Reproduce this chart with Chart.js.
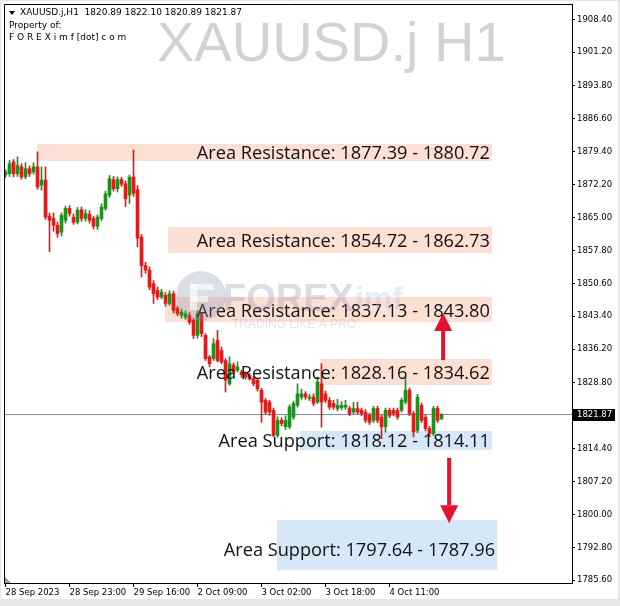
<!DOCTYPE html>
<html>
<head>
<meta charset="utf-8">
<script src="https://cdn.jsdelivr.net/npm/chart.js@4.4.0/dist/chart.umd.min.js"></script>
<style>
html, body { margin: 0; padding: 0; background: #fff; }
canvas { display: block; }
</style>
</head>
<body>
<canvas id="chart" width="620" height="606"></canvas>
<script>
// XAUUSD.j H1 candles (bar 0 = 28 Sep 2023 07:00)
var opens = [1874.3,1874.6,1877.2,1874.6,1876.1,1873.9,1875.7,1875.0,1876.1,1872.1,
  1873.2,1865.3,1864.8,1863.3,1861.8,1864.4,1867.0,1865.1,1864.0,1866.7,
  1864.8,1865.7,1864.8,1863.1,1864.8,1867.0,1869.9,1873.3,1871.3,1873.3,
  1872.4,1869.9,1873.9,1871.1,1860.7,1854.5,1853.5,1850.5,1849.1,1847.6,
  1848.0,1846.2,1848.3,1845.1,1843.6,1843.2,1843.6,1842.5,1839.2,1844.0,
  1839.2,1834.5,1834.1,1838.1,1835.9,1833.7,1828.6,1832.7,1831.6,1831.2,
  1830.8,1830.4,1829.7,1829.4,1827.2,1825.0,1824.6,1822.8,1817.3,1820.6,
  1819.2,1819.2,1821.3,1823.9,1825.7,1826.4,1825.4,1825.7,1824.6,1828.6,
  1826.4,1825.0,1824.3,1823.2,1823.4,1823.5,1823.2,1822.4,1823.2,1822.8,
  1822.4,1821.7,1820.6,1823.2,1821.3,1819.2,1822.8,1822.8,1822.8,1822.8,
  1824.6,1827.2,1822.1,1818.4,1823.9,1821.3,1818.8,1817.7,1823.2,1820.89];
var highs = [1875.5,1877.5,1877.7,1878.3,1876.8,1877.0,1876.3,1877.0,1879.4,1876.1,
  1876.1,1866.0,1866.0,1864.0,1866.0,1867.5,1867.6,1865.8,1867.2,1867.3,
  1866.7,1866.5,1865.3,1865.6,1868.0,1870.8,1874.2,1874.0,1873.9,1873.8,
  1873.0,1874.3,1879.8,1872.0,1861.3,1855.2,1854.2,1851.2,1849.8,1849.3,
  1848.6,1849.0,1848.9,1845.6,1845.0,1844.6,1844.2,1843.0,1844.6,1844.3,
  1839.6,1834.8,1838.5,1840.3,1836.7,1834.1,1834.5,1833.2,1833.4,1831.6,
  1831.2,1830.9,1830.2,1829.8,1827.6,1825.4,1825.0,1823.3,1821.4,1821.2,
  1821.6,1824.0,1824.8,1828.6,1827.4,1826.9,1826.3,1826.4,1830.1,1833.0,
  1827.0,1825.6,1825.0,1825.2,1824.7,1825.0,1823.7,1824.6,1824.6,1823.3,
  1823.0,1822.2,1823.7,1823.7,1821.8,1823.3,1823.3,1823.3,1823.3,1825.5,
  1830.1,1827.7,1822.6,1826.3,1824.4,1821.8,1819.3,1823.7,1823.7,1822.10];
var lows = [1873.8,1874.0,1873.9,1874.0,1873.4,1873.5,1874.0,1874.5,1871.2,1871.0,
  1864.6,1857.5,1862.0,1860.7,1861.0,1863.8,1865.3,1863.5,1863.6,1864.2,
  1864.2,1863.8,1862.5,1862.4,1864.3,1866.6,1869.4,1870.8,1870.6,1871.8,
  1867.4,1868.1,1869.6,1858.6,1852.0,1852.8,1849.2,1846.2,1847.0,1847.2,
  1845.6,1845.8,1844.1,1843.5,1843.0,1842.7,1841.6,1838.5,1838.6,1838.9,
  1833.7,1832.3,1833.7,1833.4,1833.0,1826.8,1828.3,1830.8,1831.2,1830.0,
  1829.6,1829.4,1828.2,1827.0,1820.2,1821.9,1821.7,1817.0,1816.9,1819.4,
  1818.6,1818.8,1820.8,1823.5,1825.2,1825.2,1824.9,1823.8,1824.3,1819.1,
  1824.5,1823.0,1823.0,1822.7,1822.9,1823.0,1821.6,1822.0,1822.0,1821.6,
  1820.1,1819.7,1820.1,1820.1,1816.6,1818.0,1821.2,1821.6,1820.8,1822.4,
  1824.2,1821.6,1817.0,1817.9,1820.1,1818.3,1817.0,1817.3,1820.1,1820.89];
var closes = [1875.0,1876.8,1874.6,1876.4,1873.9,1875.7,1874.6,1876.1,1871.7,1873.2,
  1865.1,1864.4,1863.3,1861.5,1865.5,1867.0,1865.9,1864.0,1866.6,1864.8,
  1865.9,1864.4,1863.1,1865.1,1867.3,1870.2,1873.5,1871.3,1873.3,1872.3,
  1869.1,1873.8,1870.3,1860.5,1854.5,1853.5,1849.8,1848.3,1847.6,1848.7,
  1846.2,1848.3,1844.7,1844.0,1844.3,1844.0,1842.1,1839.2,1844.0,1839.6,
  1834.1,1833.0,1837.4,1833.7,1833.4,1829.4,1833.0,1831.2,1832.3,1830.6,
  1830.1,1829.7,1828.6,1827.5,1824.6,1822.4,1822.4,1817.3,1820.6,1819.9,
  1820.6,1823.5,1824.3,1826.4,1826.4,1825.7,1825.7,1824.3,1829.0,1824.6,
  1825.0,1823.5,1823.5,1823.9,1823.9,1823.9,1822.1,1823.2,1822.4,1822.1,
  1820.6,1820.2,1823.2,1820.6,1819.2,1822.8,1821.7,1822.1,1821.3,1825.0,
  1827.2,1822.1,1818.1,1825.7,1820.6,1818.8,1817.7,1823.2,1820.6,1821.87];

// time axis
var xTickIdx = [0, 16, 32, 48, 64, 80, 96];
var xTickLabels = ['28 Sep 2023', '28 Sep 23:00', '29 Sep 16:00', '2 Oct 09:00', '3 Oct 02:00', '3 Oct 18:00', '4 Oct 11:00'];
// price axis
var yTicks = [1908.40, 1901.20, 1893.80, 1886.60, 1879.40, 1872.20, 1865.00, 1857.80, 1850.60,
  1843.40, 1836.20, 1828.80, 1814.40, 1807.20, 1800.00, 1792.80, 1785.60];

// drawn areas (bar index from/to, price high/low) and their labels
var zoneFrom = [7.9, 40.6, 39.9, 78.6, 73.6, 67.9];
var zoneTo = [121.6, 121.6, 121.6, 121.6, 121.6, 122.9];
var zoneHigh = [1881.0, 1862.93, 1847.61, 1834.04, 1818.28, 1798.79];
var zoneLow = [1877.39, 1857.24, 1842.14, 1828.34, 1814.11, 1787.85];
var zoneKind = ['res', 'res', 'res', 'res', 'sup', 'sup'];
var zoneText = ['Area Resistance: 1877.39 - 1880.72', 'Area Resistance: 1854.72 - 1862.73',
  'Area Resistance: 1837.13 - 1843.80', 'Area Resistance: 1828.16 - 1834.62',
  'Area Support: 1818.12 - 1814.11', 'Area Support: 1797.64 - 1787.96'];
var labelPrice = [1879.13, 1859.87, 1844.54, 1830.97, 1816.08, 1792.22];

// arrows (bar index, price from, price to)
var arrowIdx = [109.4, 110.9];
var arrowFrom = [1833.8, 1812.4];
var arrowTo = [1844.1, 1798.1];

var symbol = 'XAUUSD.j';
var last = opens.length - 1;
var lastPrice = closes[last];

var UP = '#1f8f1f', DOWN = '#e01b1b';
var candleColor = closes.map(function (c, i) { return c >= opens[i] ? UP : DOWN; });

var wicks = highs.map(function (h, i) { return { x: i, y: [lows[i], h] }; });
var bodies = opens.map(function (o, i) {
  return { x: i, y: [Math.min(o, closes[i]), Math.max(o, closes[i])] };
});

var mt4 = {
  id: 'mt4',
  beforeDraw: function (chart) {
    var ctx = chart.ctx;
    ctx.save();
    ctx.fillStyle = '#e6e6e6';
    ctx.fillRect(0, 0, chart.width, chart.height);
    ctx.fillStyle = '#ffffff';
    ctx.fillRect(1, 1, chart.width - 3, chart.height - 8);
    // big symbol watermark
    ctx.fillStyle = '#d2d2d2';
    ctx.font = '56px "Liberation Sans", Arial, sans-serif';
    ctx.textBaseline = 'alphabetic';
    ctx.textAlign = 'left';
    ctx.fillText(symbol + ' H1', 157, 61);
    ctx.restore();
  },
  beforeDatasetsDraw: function (chart) {
    var ctx = chart.ctx, x = chart.scales.x, y = chart.scales.y;
    ctx.save();
    for (var k = 0; k < zoneText.length; k++) {
      var x0 = Math.round(x.getPixelForValue(zoneFrom[k]));
      var x1 = Math.round(x.getPixelForValue(zoneTo[k]));
      var y0 = Math.round(y.getPixelForValue(zoneHigh[k]));
      var y1 = Math.round(y.getPixelForValue(zoneLow[k]));
      ctx.fillStyle = zoneKind[k] === 'res' ? '#fce0d3' : '#d6e7f8';
      ctx.fillRect(x0, y0, x1 - x0, y1 - y0);
    }
    ctx.restore();
  },
  afterDatasetsDraw: function (chart) {
    var ctx = chart.ctx, x = chart.scales.x, y = chart.scales.y;
    ctx.save();
    // zone labels
    ctx.fillStyle = '#111';
    ctx.font = '18.2px "Open Sans", "Liberation Sans", sans-serif';
    ctx.textAlign = 'right';
    ctx.textBaseline = 'middle';
    for (var k = 0; k < zoneText.length; k++) {
      ctx.fillText(zoneText[k], x.getPixelForValue(zoneTo[k]) - 2, y.getPixelForValue(labelPrice[k]) + 1);
    }
    // arrows
    ctx.fillStyle = '#e3132e';
    for (var j = 0; j < arrowIdx.length; j++) {
      var ax = x.getPixelForValue(arrowIdx[j]);
      var ya = y.getPixelForValue(arrowFrom[j]);
      var yb = y.getPixelForValue(arrowTo[j]);
      var dir = yb < ya ? -1 : 1;
      var head = 18;
      var neck = yb - dir * head;
      ctx.fillRect(ax - 2, Math.min(ya, neck), 4, Math.abs(neck - ya));
      ctx.beginPath();
      ctx.moveTo(ax - 9, neck);
      ctx.lineTo(ax + 9, neck);
      ctx.lineTo(ax, yb);
      ctx.closePath();
      ctx.fill();
    }
    // FOREXimf watermark
    ctx.globalAlpha = 0.3;
    ctx.fillStyle = '#8a93b0';
    ctx.beginPath();
    ctx.arc(201, 296, 25, 0, Math.PI * 2);
    ctx.fill();
    ctx.globalAlpha = 0.6;
    ctx.fillStyle = '#ffffff';
    ctx.fillRect(190, 284, 24, 6);
    ctx.fillRect(190, 296, 18, 6);
    ctx.fillRect(190, 284, 7, 26);
    ctx.globalAlpha = 0.3;
    ctx.fillStyle = '#8a93b0';
    ctx.font = 'bold 38px "Liberation Sans", Arial, sans-serif';
    ctx.textAlign = 'left';
    ctx.textBaseline = 'alphabetic';
    ctx.fillText('FOREX', 223, 311);
    var w = ctx.measureText('FOREX').width;
    ctx.fillStyle = '#9cc3ea';
    ctx.font = 'bold 32px "Liberation Sans", Arial, sans-serif';
    ctx.fillText('imf', 223 + w + 1, 309);
    ctx.globalAlpha = 0.28;
    ctx.fillStyle = '#9aa0b5';
    ctx.font = '12px "Liberation Sans", Arial, sans-serif';
    ctx.fillText('TRADING LIKE A PRO', 232, 328);
    ctx.restore();
  },
  afterDraw: function (chart) {
    var ctx = chart.ctx, y = chart.scales.y, a = chart.chartArea;
    ctx.save();
    // frame left / top
    ctx.strokeStyle = '#000';
    ctx.lineWidth = 1;
    ctx.beginPath();
    ctx.moveTo(a.left + 0.5, a.bottom);
    ctx.lineTo(a.left + 0.5, a.top + 0.5);
    ctx.lineTo(a.right, a.top + 0.5);
    ctx.stroke();
    // shift marker
    ctx.fillStyle = '#9a9a9a';
    ctx.beginPath();
    ctx.moveTo(a.left + 1, a.bottom - 6);
    ctx.lineTo(a.left + 1, a.bottom);
    ctx.lineTo(a.left + 7, a.bottom);
    ctx.closePath();
    ctx.fill();
    // header
    ctx.fillStyle = '#000';
    ctx.beginPath();
    ctx.moveTo(9, 11); ctx.lineTo(15, 11); ctx.lineTo(12, 15);
    ctx.closePath();
    ctx.fill();
    ctx.font = '9px "DejaVu Sans", sans-serif';
    ctx.textAlign = 'left';
    ctx.textBaseline = 'middle';
    ctx.fillText(symbol + ',H1  ' + [opens[last], highs[last], lows[last], closes[last]].map(function (v) {
      return v.toFixed(2);
    }).join(' '), 20, 13);
    ctx.fillText('Property of:', 9, 26);
    ctx.fillText('F O R E X i m f [dot] c o m', 9, 37.5);
    // last price tag
    ctx.font = '8.5px "DejaVu Sans", sans-serif';
    var py = Math.round(y.getPixelForValue(lastPrice));
    ctx.fillStyle = '#000';
    ctx.fillRect(a.right + 1, py - 6, 42, 12);
    ctx.fillStyle = '#fff';
    ctx.fillText(lastPrice.toFixed(2), a.right + 5, py);
    ctx.restore();
  }
};

new Chart(document.getElementById('chart'), {
  type: 'bar',
  data: {
    datasets: [{
      type: 'line',
      data: [{ x: -0.375, y: lastPrice }, { x: 141.625, y: lastPrice }],
      borderColor: '#7d8d9f',
      borderWidth: 1,
      pointRadius: 0,
      order: 3
    }, {
      data: wicks,
      backgroundColor: candleColor,
      barThickness: 1,
      grouped: false,
      order: 2
    }, {
      data: bodies,
      backgroundColor: candleColor,
      barThickness: 3,
      minBarLength: 1,
      grouped: false,
      order: 1
    }]
  },
  options: {
    responsive: false,
    animation: false,
    layout: { padding: { left: 4, top: 4, right: 0, bottom: 0 } },
    plugins: { legend: { display: false }, tooltip: { enabled: false } },
    scales: {
      x: {
        type: 'linear',
        min: -0.375,
        max: 141.625,
        offset: false,
        grid: { offset: false, drawOnChartArea: false, drawTicks: true, tickLength: 4, color: '#000' },
        border: { display: true, color: '#000' },
        afterBuildTicks: function (s) { s.ticks = xTickIdx.map(function (v) { return { value: v }; }); },
        afterFit: function (s) { s.height = 23; s.paddingLeft = 0; s.paddingRight = 0; },
        ticks: {
          autoSkip: false, maxRotation: 0, minRotation: 0, align: 'start', padding: 1,
          color: '#000',
          font: { family: 'DejaVu Sans', size: 8.5 },
          callback: function (v) { var k = xTickIdx.indexOf(v); return k < 0 ? '' : xTickLabels[k]; }
        }
      },
      y: {
        type: 'linear',
        position: 'right',
        min: 1785.0,
        max: 1911.75,
        grid: { offset: false, drawOnChartArea: false, drawTicks: true, tickLength: 3, color: '#000' },
        border: { display: true, color: '#000' },
        afterBuildTicks: function (s) { s.ticks = yTicks.map(function (v) { return { value: v }; }); },
        afterFit: function (s) { s.width = 48; s.paddingTop = 0; s.paddingBottom = 0; },
        ticks: {
          padding: 2,
          color: '#000',
          font: { family: 'DejaVu Sans', size: 8.5 },
          callback: function (v) { return v.toFixed(2); }
        }
      }
    }
  },
  plugins: [mt4]
});
</script>
</body>
</html>
